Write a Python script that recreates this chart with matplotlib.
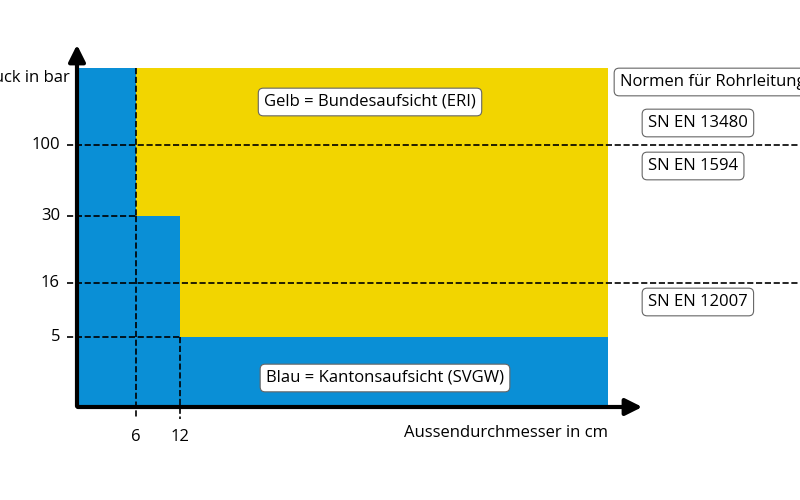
import matplotlib
matplotlib.use("Agg")
import matplotlib.pyplot as plt
import numpy as np
from matplotlib.patches import Rectangle, FancyBboxPatch

# data
x_ticks = [6, 12]
y_levels = [5, 16, 30, 100]
blue_steps_x = [0, 6, 12]          # step starts
blue_steps_top = ["top", 30, 5]    # blue top at each step
norms = ["SN EN 13480", "SN EN 1594", "SN EN 12007"]
norm_levels = [130, 100, 16]
labels = {"yellow": "Gelb = Bundesaufsicht (ERI)", "blue": "Blau = Kantonsaufsicht (SVGW)"}

# mapping from value to pixel positions (non-linear schematic axes)
def X(v): return np.interp(v, [0, 6, 12, 60], [77, 136, 180, 608])
def Y(v): return np.interp(v, [0, 5, 16, 30, 100, 200], [407, 337, 283, 216, 145, 68])

fig = plt.figure(figsize=(8, 5), dpi=100)
ax = fig.add_axes([0, 0, 1, 1])
ax.set_xlim(0, 800); ax.set_ylim(500, 0); ax.axis("off")

YEL, BLU = "#f2d500", "#0a8fd6"
ax.add_patch(Rectangle((X(0), Y(200)), X(60)-X(0), Y(0)-Y(200), color=YEL, lw=0))
ends = [6, 12, 60]
for s, e, t in zip(blue_steps_x, ends, blue_steps_top):
    top = Y(200) if t == "top" else Y(t)
    ax.add_patch(Rectangle((X(s), top), X(e)-X(s), Y(0)-top, color=BLU, lw=0))

# dashed guides
for lv in [100, 16]:
    ax.plot([X(0)-10, 800], [Y(lv)]*2, ls="--", color="black", lw=1.2)
ax.plot([X(0)-10, X(6)], [Y(30)]*2, ls="--", color="black", lw=1.2)
ax.plot([X(0)-10, X(12)], [Y(5)]*2, ls="--", color="black", lw=1.2)
ax.plot([X(6)]*2, [Y(30), Y(0)+12], ls="--", color="black", lw=1.2)
ax.plot([X(6)]*2, [Y(200), Y(30)], ls="--", color="black", lw=1.2)
ax.plot([X(12)]*2, [Y(5), Y(0)+12], ls="--", color="black", lw=1.2)

# axes arrows
ax.annotate("", xy=(645, Y(0)), xytext=(X(0)-2, Y(0)),
            arrowprops=dict(arrowstyle="-|>,head_width=0.5,head_length=1", color="black", lw=3))
ax.annotate("", xy=(X(0), 42), xytext=(X(0), Y(0)+2),
            arrowprops=dict(arrowstyle="-|>,head_width=0.5,head_length=1", color="black", lw=3))

fs = 12
for lv in y_levels:
    ax.text(60, Y(lv), str(lv), ha="right", va="center", fontsize=fs, family="Open Sans")
for t in x_ticks:
    ax.text(X(t), 437, str(t), ha="center", va="center", fontsize=fs, family="Open Sans")
ax.text(70, 78, "Druck in bar", ha="right", va="center", fontsize=fs, family="Open Sans")
ax.text(608, 433, "Aussendurchmesser in cm", ha="right", va="center", fontsize=fs, family="Open Sans")

box = dict(boxstyle="round,pad=0.35,rounding_size=0.3", fc="white", ec="#666666", lw=0.8)
ax.text(370, 102, labels["yellow"], ha="center", va="center", fontsize=fs, family="Open Sans", bbox=box)
ax.text(385, 378, labels["blue"], ha="center", va="center", fontsize=fs, family="Open Sans", bbox=box)
ax.text(620, 82, "Normen für Rohrleitungen", ha="left", va="center", fontsize=fs, family="Open Sans", bbox=box)
for n, y in zip(norms, [123, 166, 302]):
    ax.text(648, y, n, ha="left", va="center", fontsize=fs, family="Open Sans", bbox=box)

fig.savefig("out.png", dpi=100)
